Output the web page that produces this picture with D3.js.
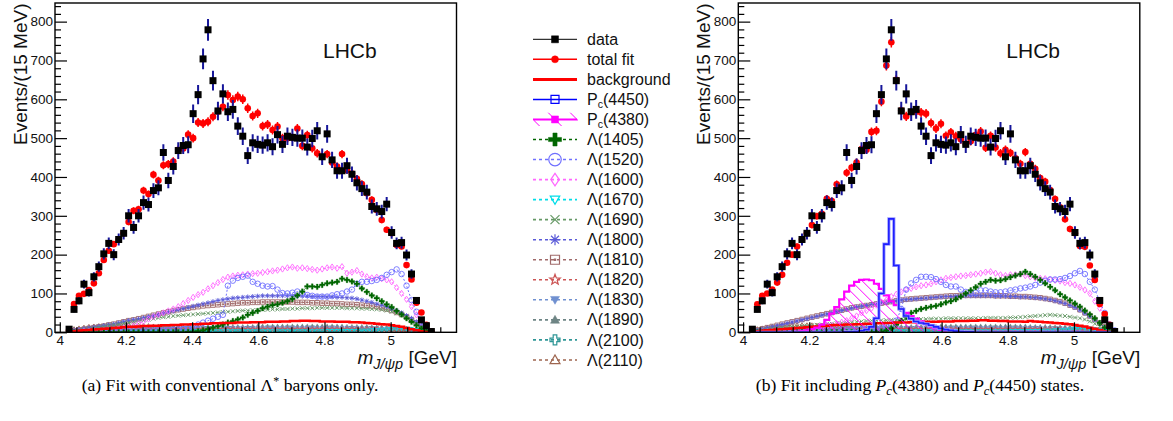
<!DOCTYPE html>
<html><head><meta charset="utf-8">
<script src="https://cdn.jsdelivr.net/npm/d3@7"></script>
<style>body{margin:0;background:#fff}svg{display:block}</style>
</head><body>
<svg id="c" width="1173" height="421"></svg>
<script>
// ---------- DATA ----------
const binStart = 4.028, binWidth = 0.015;
const xTickLabels = [4, 4.2, 4.4, 4.6, 4.8, 5];
const yTickLabels = [0, 100, 200, 300, 400, 500, 600, 700, 800];

const data = [
  8,59,81,124,102,143,169,202,229,200,
  239,255,300,270,300,334,329,365,372,463,
  391,427,468,481,483,563,612,704,779,648,
  570,614,568,574,531,505,455,488,484,482,
  488,478,509,484,505,502,500,500,477,499,
  519,452,511,444,416,416,429,407,385,370,
  361,324,318,311,330,257,229,231,199,150,
  82,32,17,2];

const fitA = [
  5,73,94,99,109,126,152,186,210,227,
  238,255,284,313,317,365,356,406,391,430,
  433,440,470,473,509,500,540,538,542,555,
  568,581,611,598,607,600,577,557,564,531,
  535,521,530,500,500,502,525,480,508,474,
  461,452,459,437,427,459,418,409,395,382,
  358,341,315,289,264,255,225,221,173,136,
  76,51,19,2];

const fitB = [
  5,72,94,100,110,128,148,179,200,221,
  239,255,276,299,305,344,338,381,372,411,
  424,437,472,470,516,519,594,687,747,650,
  572,556,567,568,566,563,539,525,537,506,
  515,505,497,485,492,508,517,475,506,476,
  461,470,462,448,434,464,434,421,397,388,
  366,343,322,291,266,255,222,220,172,135,
  73,47,19,2];

const bkgA = [
  2,3,4,5,6,7,8,9,10,11,
  12,13,14,14,15,16,16,17,17,18,
  18,19,19,20,20,21,21,22,22,23,
  23,24,24,24,25,25,25,26,26,26,
  27,27,27,28,28,29,29,30,30,29,
  29,28,28,28,27,27,27,26,26,25,
  24,23,22,21,20,18,16,14,11,8,
  5,3,1,0];

const bkgB = [
  2,3,4,5,6,7,8,9,10,11,
  12,13,14,15,16,17,18,19,19,20,
  20,21,21,22,22,23,23,24,24,25,
  25,25,26,26,26,27,27,27,28,28,
  28,29,29,29,30,30,31,31,30,30,
  29,29,28,28,28,27,29,28,27,26,
  25,24,23,22,21,19,17,15,12,9,
  6,3,1,0];

const pc4450B = [
  0,0,0,0,0,0,0,0,0,0,
  0,0,0,0,0,0,0,0,0,1,
  1,2,4,7,14,36,100,227,292,172,
  60,42,35,28,24,22,18,14,10,7,
  5,3,2,1,1,0,0,0,0,0,
  0,0,0,0,0,0,0,0,0,0,
  0,0,0,0,0,0,0,0,0,0,
  0,0,0,0];

const pc4380B = [
  0,0,0,0,0,0,0,1,1,2,
  3,5,8,12,20,32,48,65,85,105,
  120,130,135,136,134,125,112,95,80,70,
  60,50,42,35,28,21,15,10,6,4,
  2,1,1,1,1,1,1,1,1,1,
  1,1,1,1,1,1,1,1,1,1,
  1,1,1,1,1,1,1,0,0,0,
  0,0,0,0];

const L1405A = [
  0,0,0,0,0,0,0,0,0,0,
  0,0,0,0,0,0,0,0,0,0,
  0,0,0,0,1,2,3,5,8,12,
  16,20,25,29,33,38,45,50,55,62,
  66,70,72,76,80,86,95,105,118,118,
  117,122,126,128,130,138,135,131,125,113,
  104,95,88,80,72,65,55,46,36,27,
  18,10,4,1];
const L1405B = [
  0,0,0,0,0,0,0,0,0,0,
  0,0,0,0,0,0,0,0,0,0,
  0,0,0,0,0,0,2,5,10,20,
  30,40,50,55,60,63,66,68,72,77,
  80,85,92,100,108,116,125,130,135,133,
  134,137,142,146,150,156,150,143,135,126,
  117,108,98,90,82,74,66,56,46,36,
  24,12,4,1];

const L1520A = [
  0,0,0,0,0,0,1,1,1,1,
  1,2,2,2,2,3,3,3,4,4,
  5,6,7,8,10,15,20,25,30,35,
  40,45,120,133,140,143,146,130,125,120,
  118,119,110,101,100,102,105,100,96,94,
  92,92,92,95,98,100,105,110,125,130,
  130,132,135,140,148,155,162,150,120,83,
  53,27,8,1];
const L1520B = [
  0,0,0,0,0,0,1,1,1,1,
  1,2,2,2,2,3,3,3,4,4,
  5,6,7,8,8,10,12,15,20,30,
  60,110,126,135,143,143,142,137,130,122,
  118,118,110,104,100,102,108,108,105,103,
  103,105,108,110,113,115,118,122,128,133,
  136,136,137,140,145,152,158,150,130,110,
  80,50,20,5];

const L1600A = [
  0,1,1,2,2,3,3,4,5,6,
  8,10,13,17,22,28,34,40,45,50,
  55,60,66,74,82,90,97,103,112,120,
  128,136,142,145,147,148,150,151,152,154,
  156,158,160,163,166,168,165,166,164,162,
  160,163,166,168,165,169,152,155,159,150,
  143,140,142,138,135,130,115,100,85,66,
  45,25,8,2];
const L1600B = [
  0,0,1,1,1,2,2,3,3,4,
  5,6,8,10,12,15,18,22,26,30,
  36,42,50,56,62,70,78,83,92,98,
  104,110,113,117,120,122,125,130,135,139,
  141,143,145,146,148,150,152,155,156,152,
  148,146,148,148,150,146,143,140,139,138,
  136,134,132,128,126,122,116,109,100,80,
  62,40,15,3];

const L1670 = [
  0,0,1,1,1,1,1,1,1,1,
  1,1,1,1,1,1,1,1,2,2,
  2,2,2,2,2,2,2,2,2,2,
  2,2,2,2,2,2,2,2,2,2,
  2,2,2,2,2,2,2,2,2,2,
  2,2,3,3,3,3,3,3,3,4,
  4,5,5,6,7,8,9,10,9,7,
  5,3,1,0];

const L1690A = [
  1,3,5,7,9,11,13,15,17,19,
  21,23,25,27,29,31,33,35,37,39,
  40,42,43,44,45,46,47,48,49,50,
  51,52,53,54,55,56,56,57,57,58,
  58,59,59,60,60,61,61,62,62,62,
  63,63,63,63,63,63,62,62,62,61,
  61,60,59,58,56,53,49,44,38,30,
  21,12,5,1];
const L1690B = [
  2,4,6,8,10,11,12,13,14,15,
  16,17,18,19,20,21,22,23,24,25,
  26,27,28,29,30,30,31,31,32,32,
  33,33,33,34,34,34,35,35,35,36,
  36,36,36,36,36,36,36,37,37,37,
  37,37,38,38,39,40,41,42,43,44,
  45,44,43,42,40,38,36,33,28,22,
  16,10,4,1];

const L1800A = [
  3,5,7,9,11,13,15,17,19,21,
  24,27,30,32,34,37,40,43,46,49,
  52,55,58,61,64,67,70,73,76,79,
  82,84,86,88,89,90,91,92,93,94,
  94,94,94,94,94,94,93,93,93,92,
  92,92,91,91,90,90,89,88,86,83,
  80,77,73,70,66,61,56,50,43,36,
  27,18,8,2];
const L1800B = [
  3,5,8,11,14,17,20,23,26,29,
  32,35,38,41,44,47,50,53,56,59,
  62,65,67,69,71,73,75,77,79,81,
  83,84,85,86,87,88,89,90,91,92,
  92,93,93,94,94,94,94,94,94,93,
  93,93,92,92,91,91,90,89,88,86,
  84,81,78,74,69,64,57,49,41,32,
  23,13,5,1];

const L1810A = [
  2,4,6,8,10,12,14,16,19,21,
  24,27,30,32,35,38,41,44,47,50,
  53,56,58,60,62,64,66,68,69,70,
  71,72,73,74,75,76,76,77,77,78,
  78,78,78,78,78,78,77,77,77,76,
  76,75,75,74,74,73,72,72,71,70,
  69,68,66,63,60,56,51,46,40,32,
  24,15,6,1];
const L1810B = [
  3,6,9,12,15,18,21,24,27,30,
  33,36,39,42,45,48,51,54,57,60,
  63,65,67,69,71,73,75,77,79,81,
  83,85,86,87,88,89,90,91,92,93,
  94,94,95,95,95,95,95,95,95,94,
  94,94,93,93,92,92,91,90,89,87,
  85,82,79,75,70,65,58,50,42,33,
  24,14,5,1];

const L1820 = [
  2,2,3,3,4,4,5,5,5,6,
  6,6,6,7,7,7,7,7,7,7,
  7,7,7,7,7,8,8,8,8,8,
  8,8,8,8,8,8,8,8,8,8,
  8,8,8,8,8,8,8,8,8,8,
  8,8,8,8,8,8,8,8,8,8,
  8,8,8,7,7,7,7,6,6,5,
  4,3,1,0];

const L1830 = [
  3,4,5,6,6,7,7,8,8,8,
  9,9,9,9,10,10,10,10,10,10,
  10,10,11,11,11,11,11,11,11,11,
  11,11,11,11,11,11,11,11,11,11,
  11,11,11,11,11,11,11,11,11,11,
  11,11,11,11,11,11,11,11,11,10,
  10,10,10,9,9,9,8,8,7,6,
  4,3,1,0];

const L1890 = [
  6,7,8,9,10,10,11,11,12,12,
  12,13,13,13,13,14,14,14,14,14,
  14,14,14,14,15,15,15,15,15,15,
  15,15,15,15,15,15,15,15,16,16,
  16,16,16,16,16,16,16,16,16,16,
  16,16,16,16,16,16,15,15,15,15,
  15,14,14,14,13,13,12,11,10,8,
  6,4,2,0];

const L2100 = [
  1,2,2,3,3,3,4,4,4,4,
  5,5,5,5,5,5,5,5,5,5,
  5,5,5,5,5,5,5,5,5,5,
  5,5,5,5,5,5,5,5,5,5,
  5,5,5,5,5,5,5,5,5,5,
  5,5,5,6,6,6,6,6,6,6,
  6,6,7,7,7,8,8,8,7,6,
  5,3,1,0];

const L2110 = [
  5,8,10,12,14,15,16,17,18,18,
  18,18,18,17,17,16,16,15,15,14,
  14,13,13,12,12,12,11,11,11,10,
  10,10,10,10,9,9,9,9,9,9,
  9,9,9,9,9,9,9,9,9,9,
  9,9,9,9,9,9,9,9,9,9,
  9,9,9,9,9,8,8,8,7,6,
  5,3,1,0];

// ---------- STYLES ----------
const compStyles = [
  {key:'L1405', label:'Λ(1405)', color:'#006600', m:'plusF', ps:5.5, ls:13},
  {key:'L1520', label:'Λ(1520)', color:'#7070ff', m:'cirO', ps:5.5, ls:12.5},
  {key:'L1600', label:'Λ(1600)', color:'#ff66ff', m:'diaO', ps:5, ls:10},
  {key:'L1670', label:'Λ(1670)', color:'#00dde8', m:'triDO', ps:4.5, ls:9.5},
  {key:'L1690', label:'Λ(1690)', color:'#669966', m:'x', ps:4, ls:9},
  {key:'L1800', label:'Λ(1800)', color:'#5a5ad8', m:'ast', ps:5, ls:11},
  {key:'L1810', label:'Λ(1810)', color:'#a06a6a', m:'sqDot', ps:4.5, ls:9},
  {key:'L1820', label:'Λ(1820)', color:'#cc5555', m:'starO', ps:5, ls:11},
  {key:'L1830', label:'Λ(1830)', color:'#7090d0', m:'triDF', ps:4.5, ls:9},
  {key:'L1890', label:'Λ(1890)', color:'#6e8585', m:'triUF', ps:4.5, ls:9},
  {key:'L2100', label:'Λ(2100)', color:'#2f9696', m:'crossO', ps:5, ls:10},
  {key:'L2110', label:'Λ(2110)', color:'#9e6650', m:'triUO', ps:5, ls:10}
];
const filledTypes = new Set(['sqF','cirF','plusF','triDF','triUF']);

function shape(t, cx, cy, s) {
  const h = s / 2;
  switch (t) {
    case 'sqF': case 'sqO':
      return `M${cx-h},${cy-h}h${s}v${s}h${-s}Z`;
    case 'sqDot':
      return `M${cx-h},${cy-h}h${s}v${s}h${-s}ZM${cx-0.6},${cy-0.6}h1.2v1.2h-1.2Z`;
    case 'cirF': case 'cirO':
      return `M${cx-h},${cy}a${h},${h} 0 1,0 ${s},0a${h},${h} 0 1,0 ${-s},0Z`;
    case 'plusF': case 'crossO': {
      const a = s * (t === 'plusF' ? 0.16 : 0.18);
      const p = [[-a,-h],[a,-h],[a,-a],[h,-a],[h,a],[a,a],[a,h],[-a,h],[-a,a],[-h,a],[-h,-a],[-a,-a]];
      return 'M' + p.map(q => `${cx+q[0]},${cy+q[1]}`).join('L') + 'Z';
    }
    case 'diaO':
      return `M${cx},${cy-h*1.25}L${cx+h*0.85},${cy}L${cx},${cy+h*1.25}L${cx-h*0.85},${cy}Z`;
    case 'triDO': case 'triDF':
      return `M${cx-h},${cy-h*0.75}L${cx+h},${cy-h*0.75}L${cx},${cy+h}Z`;
    case 'triUO': case 'triUF':
      return `M${cx-h},${cy+h*0.75}L${cx+h},${cy+h*0.75}L${cx},${cy-h}Z`;
    case 'x':
      return `M${cx-h},${cy-h}L${cx+h},${cy+h}M${cx-h},${cy+h}L${cx+h},${cy-h}`;
    case 'ast': {
      const k = h * 0.72;
      return `M${cx-h},${cy}H${cx+h}M${cx},${cy-h}V${cy+h}M${cx-k},${cy-k}L${cx+k},${cy+k}M${cx-k},${cy+k}L${cx+k},${cy-k}`;
    }
    case 'starO': {
      let d = '';
      for (let j = 0; j < 10; j++) {
        const r = j % 2 ? h * 0.42 : h;
        const ang = -Math.PI / 2 + j * Math.PI / 5;
        d += (j ? 'L' : 'M') + (cx + r * Math.cos(ang)) + ',' + (cy + r * Math.sin(ang));
      }
      return d + 'Z';
    }
  }
  return '';
}

// ---------- SETUP ----------
const svg = d3.select('#c');
const FONT = "'Liberation Sans', Arial, Helvetica, sans-serif";
const SERIF = "'Liberation Serif', 'Times New Roman', serif";
const W = 401.5, H = 329.3;
const x = d3.scaleLinear().domain([3.9855, 5.199]).range([0, W]);
const y = d3.scaleLinear().domain([0, 848]).range([H, 0]);
const xc = data.map((d, i) => binStart + binWidth * i);

const defs = svg.append('defs');
const pat = defs.append('pattern').attr('id', 'hatch').attr('patternUnits', 'userSpaceOnUse')
  .attr('width', 11).attr('height', 11);
pat.append('path').attr('d', 'M0,0L11,11M-3,8L3,14M8,-3L14,3')
  .attr('stroke', '#ff00ff').attr('stroke-width', 1);

const xMinor = d3.range(81, 104).map(k => k * 0.05).filter(v => !xTickLabels.some(t => Math.abs(t - v) < 1e-6));
const yMinor = d3.range(0, 841, 20).filter(v => v % 100 !== 0);

function histPath(vals) {
  const pts = vals.map((v, i) => [xc[i] - binWidth / 2, v]);
  pts.push([xc[vals.length - 1] + binWidth / 2, vals[vals.length - 1]]);
  return d3.line().x(p => x(p[0])).y(p => y(p[1])).curve(d3.curveStepAfter)(pts);
}
function histArea(vals) {
  const pts = vals.map((v, i) => [xc[i] - binWidth / 2, v]);
  pts.push([xc[vals.length - 1] + binWidth / 2, vals[vals.length - 1]]);
  return d3.area().x(p => x(p[0])).y0(y(0)).y1(p => y(p[1])).curve(d3.curveStepAfter)(pts);
}

function panel(ox, P, id) {
  const g = svg.append('g').attr('transform', `translate(${ox},3)`);
  defs.append('clipPath').attr('id', id).append('rect').attr('x', 0).attr('y', 0).attr('width', W).attr('height', H);
  const body = g.append('g').attr('clip-path', `url(#${id})`);

  // Lambda components (reverse legend order so Λ(1405) is on top)
  compStyles.slice().reverse().forEach(st => {
    const vals = P.comps[st.key];
    body.append('path')
      .attr('d', d3.line().x((d, i) => x(xc[i])).y(d => y(d))(vals))
      .attr('fill', 'none').attr('stroke', st.color).attr('stroke-width', 1)
      .attr('stroke-dasharray', '2,2');
    let d = '';
    vals.forEach((v, i) => { d += shape(st.m, x(xc[i]), y(v), st.ps); });
    const filled = filledTypes.has(st.m);
    body.append('path').attr('d', d)
      .attr('fill', filled ? st.color : 'none')
      .attr('stroke', st.color).attr('stroke-width', filled ? 0.3 : 0.9);
  });

  // background
  body.append('path').attr('d', histPath(P.bkg)).attr('fill', 'none')
    .attr('stroke', '#ff0000').attr('stroke-width', 2.5);

  if (P.pc4380) {
    body.append('path').attr('d', histArea(P.pc4380)).attr('fill', 'url(#hatch)');
    body.append('path').attr('d', histPath(P.pc4380)).attr('fill', 'none')
      .attr('stroke', '#ff00ff').attr('stroke-width', 2.2);
  }
  if (P.pc4450) {
    body.append('path').attr('d', histPath(P.pc4450)).attr('fill', 'none')
      .attr('stroke', '#9a9aff').attr('stroke-width', 3.2);
    body.append('path').attr('d', histPath(P.pc4450)).attr('fill', 'none')
      .attr('stroke', '#1e1eff').attr('stroke-width', 1.6);
  }

  // total fit
  body.append('g').selectAll('line').data(P.fit).join('line')
    .attr('x1', (d, i) => x(xc[i])).attr('x2', (d, i) => x(xc[i]))
    .attr('y1', d => y(d + 0.5 * Math.sqrt(d))).attr('y2', d => y(Math.max(0, d - 0.5 * Math.sqrt(d))))
    .attr('stroke', '#ff0000').attr('stroke-width', 1.5);
  body.append('g').selectAll('circle').data(P.fit).join('circle')
    .attr('cx', (d, i) => x(xc[i])).attr('cy', d => y(d)).attr('r', 3.3).attr('fill', '#ff0000');

  // data
  body.append('g').selectAll('line').data(data).join('line')
    .attr('x1', (d, i) => x(xc[i])).attr('x2', (d, i) => x(xc[i]))
    .attr('y1', d => y(d + Math.sqrt(d))).attr('y2', d => y(Math.max(0, d - Math.sqrt(d))))
    .attr('stroke', '#16169a').attr('stroke-width', 2);
  body.append('g').selectAll('rect').data(data).join('rect')
    .attr('x', (d, i) => x(xc[i]) - 3.5).attr('y', d => y(d) - 3.5)
    .attr('width', 7).attr('height', 7).attr('fill', '#000');

  // axes
  const styleAxis = sel => {
    sel.select('.domain').remove();
    sel.selectAll('line').attr('stroke', '#000').attr('stroke-width', 1.2);
    sel.selectAll('text').attr('font-family', FONT).attr('font-size', 13.5).attr('fill', '#111');
  };
  g.append('g').attr('transform', `translate(0,${H})`)
    .call(d3.axisBottom(x).tickValues(xTickLabels).tickSize(-10).tickPadding(3.6).tickFormat(d3.format('~g')))
    .call(styleAxis);
  g.append('g').attr('transform', `translate(0,${H})`)
    .call(d3.axisBottom(x).tickValues(xMinor).tickSize(-5).tickFormat(''))
    .call(styleAxis);
  g.append('g')
    .call(d3.axisLeft(y).tickValues(yTickLabels).tickSize(-12).tickPadding(2))
    .call(styleAxis);
  g.append('g')
    .call(d3.axisLeft(y).tickValues(yMinor).tickSize(-6).tickFormat(''))
    .call(styleAxis);

  // frame
  g.append('rect').attr('x', 0).attr('y', 0).attr('width', W).attr('height', H)
    .attr('fill', 'none').attr('stroke', '#000').attr('stroke-width', 1.4);

  // texts
  g.append('text').attr('x', 268).attr('y', 54.5).attr('font-family', FONT)
    .attr('font-size', 21).attr('fill', '#111').text('LHCb');
  g.append('text').attr('transform', 'translate(-28,0.5) rotate(-90)')
    .attr('text-anchor', 'end').attr('font-family', FONT).attr('font-size', 19).attr('fill', '#111')
    .text('Events/(15 MeV)');
  const xt = g.append('text').attr('x', W + 0.5).attr('y', 361).attr('text-anchor', 'end')
    .attr('font-family', FONT).attr('font-size', 19).attr('fill', '#111');
  xt.append('tspan').attr('font-style', 'italic').text('m');
  xt.append('tspan').attr('font-style', 'italic').attr('font-size', 14.5).attr('dy', 5).text('J/ψp');
  xt.append('tspan').attr('dy', -5).text(' [GeV]');
}

const smallComps = {L1670, L1820, L1830, L1890, L2100, L2110};
panel(55, {
  fit: fitA, bkg: bkgA,
  comps: Object.assign({L1405: L1405A, L1520: L1520A, L1600: L1600A, L1690: L1690A, L1800: L1800A, L1810: L1810A}, smallComps)
}, 'clipA');
panel(738.3, {
  fit: fitB, bkg: bkgB, pc4450: pc4450B, pc4380: pc4380B,
  comps: Object.assign({L1405: L1405B, L1520: L1520B, L1600: L1600B, L1690: L1690B, L1800: L1800B, L1810: L1810B}, smallComps)
}, 'clipB');

// ---------- LEGEND ----------
const legend = svg.append('g');
const entries = [
  {label: 'data', lc: '#000', lw: 1, m: 'sqF', c: '#000', s: 7},
  {label: 'total fit', lc: '#ff0000', lw: 1.5, m: 'cirF', c: '#ff0000', s: 7},
  {label: 'background', lc: '#ff0000', lw: 3},
  {label: 'P|c|(4450)', lc: '#0000ff', lw: 1.5, m: 'sqO', c: '#0000ff', s: 8},
  {label: 'P|c|(4380)', lc: '#ff00ff', lw: 2, m: 'sqF', c: '#ff00ff', s: 7, hatch: true}
].concat(compStyles.map(st => ({label: st.label, lc: st.color, lw: 1.6, dash: '3,3', m: st.m, c: st.color, s: st.ls})));

entries.forEach((e, k) => {
  const yy = 39.3 + 20.04 * k;
  legend.append('line').attr('x1', 533).attr('x2', 577).attr('y1', yy).attr('y2', yy)
    .attr('stroke', e.lc).attr('stroke-width', e.lw).attr('stroke-dasharray', e.dash || null);
  if (e.hatch) {
    defs.append('clipPath').attr('id', 'lhclip').append('rect')
      .attr('x', 534).attr('y', yy - 7).attr('width', 44).attr('height', 13.5);
    const hg = legend.append('g').attr('clip-path', 'url(#lhclip)');
    [526, 548, 570].forEach(x0 => {
      hg.append('line').attr('x1', x0).attr('y1', yy - 7).attr('x2', x0 + 14).attr('y2', yy + 7)
        .attr('stroke', '#ff00ff').attr('stroke-width', 1);
    });
  }
  if (e.m) {
    const filled = filledTypes.has(e.m);
    legend.append('path').attr('d', shape(e.m, 555, yy, e.s))
      .attr('fill', filled ? e.c : 'none')
      .attr('stroke', e.c).attr('stroke-width', filled ? 0.5 : 1.2);
  }
  const t = legend.append('text').attr('x', 587).attr('y', yy + 5.6)
    .attr('font-family', FONT).attr('font-size', 16).attr('fill', '#111');
  if (e.label.includes('|')) {
    const [a, b, c] = e.label.split('|');
    t.append('tspan').text(a);
    t.append('tspan').attr('font-size', 10.5).attr('dy', 3).text(b);
    t.append('tspan').attr('dy', -3).text(c);
  } else {
    t.text(e.label);
  }
});

// ---------- CAPTIONS ----------
const capA = svg.append('text').attr('x', 230).attr('y', 391).attr('text-anchor', 'middle')
  .attr('font-family', SERIF).attr('font-size', 17.6).attr('fill', '#000');
capA.append('tspan').text('(a) Fit with conventional Λ');
capA.append('tspan').attr('font-size', 12).attr('dy', -6.5).text('*');
capA.append('tspan').attr('dy', 6.5).text(' baryons only.');

const capB = svg.append('text').attr('x', 920).attr('y', 391).attr('text-anchor', 'middle')
  .attr('font-family', SERIF).attr('font-size', 17.6).attr('fill', '#000');
capB.append('tspan').text('(b) Fit including ');
capB.append('tspan').attr('font-style', 'italic').text('P');
capB.append('tspan').attr('font-style', 'italic').attr('font-size', 12.5).attr('dy', 4).text('c');
capB.append('tspan').attr('dy', -4).text('(4380) and ');
capB.append('tspan').attr('font-style', 'italic').text('P');
capB.append('tspan').attr('font-style', 'italic').attr('font-size', 12.5).attr('dy', 4).text('c');
capB.append('tspan').attr('dy', -4).text('(4450) states.');
</script>
</body></html>
